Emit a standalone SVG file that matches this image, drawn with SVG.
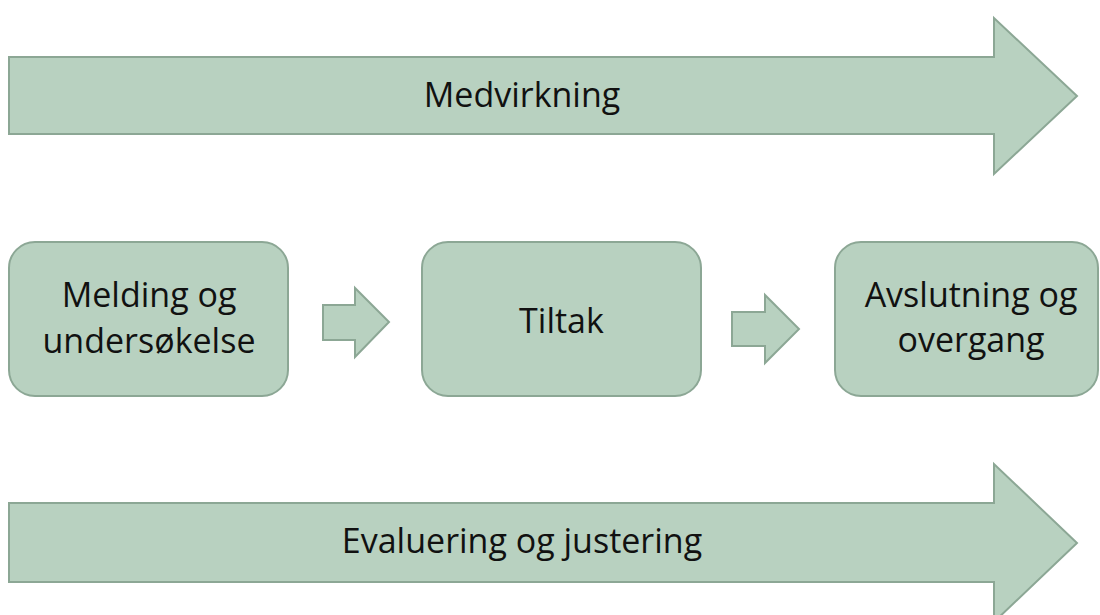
<svg xmlns="http://www.w3.org/2000/svg" width="1100" height="615" viewBox="0 0 1100 615">
<style>
.shape{fill:#b8d1c0;stroke:#8ca795;stroke-width:2;stroke-linejoin:miter}
.lbl{font-family:"Open Sans","Liberation Sans",sans-serif;font-size:34px;fill:#111;text-anchor:middle}
</style>
<rect width="1100" height="615" fill="#ffffff"/>
<g id="medvirkning">
<polygon class="shape" points="9,57 994,57 994,18 1077,96 994,174 994,134 9,134"/>
<text class="lbl" x="522" y="107">Medvirkning</text>
</g>
<g id="melding">
<rect class="shape" x="9" y="242" width="279" height="154" rx="26" ry="26"/>
<text class="lbl" x="149" y="307">Melding og</text>
<text class="lbl" x="149" y="353">undersøkelse</text>
</g>
<g id="tiltak">
<rect class="shape" x="422" y="242" width="279" height="154" rx="26" ry="26"/>
<text class="lbl" x="561.5" y="333">Tiltak</text>
</g>
<g id="avslutning">
<rect class="shape" x="835" y="242" width="263" height="154" rx="26" ry="26"/>
<text class="lbl" x="971" y="307">Avslutning og</text>
<text class="lbl" x="971" y="352">overgang</text>
</g>
<g id="connectors">
<polygon class="shape" points="323,305 355,305 355,288 389,322 355,357 355,340 323,340"/>
<polygon class="shape" points="732,312 765,312 765,295 799,329 765,363 765,346 732,346"/>
</g>
<g id="evaluering">
<polygon class="shape" points="9,503 994,503 994,464 1077,543 994,622 994,582 9,582"/>
<text class="lbl" x="522" y="553">Evaluering og justering</text>
</g>
</svg>
